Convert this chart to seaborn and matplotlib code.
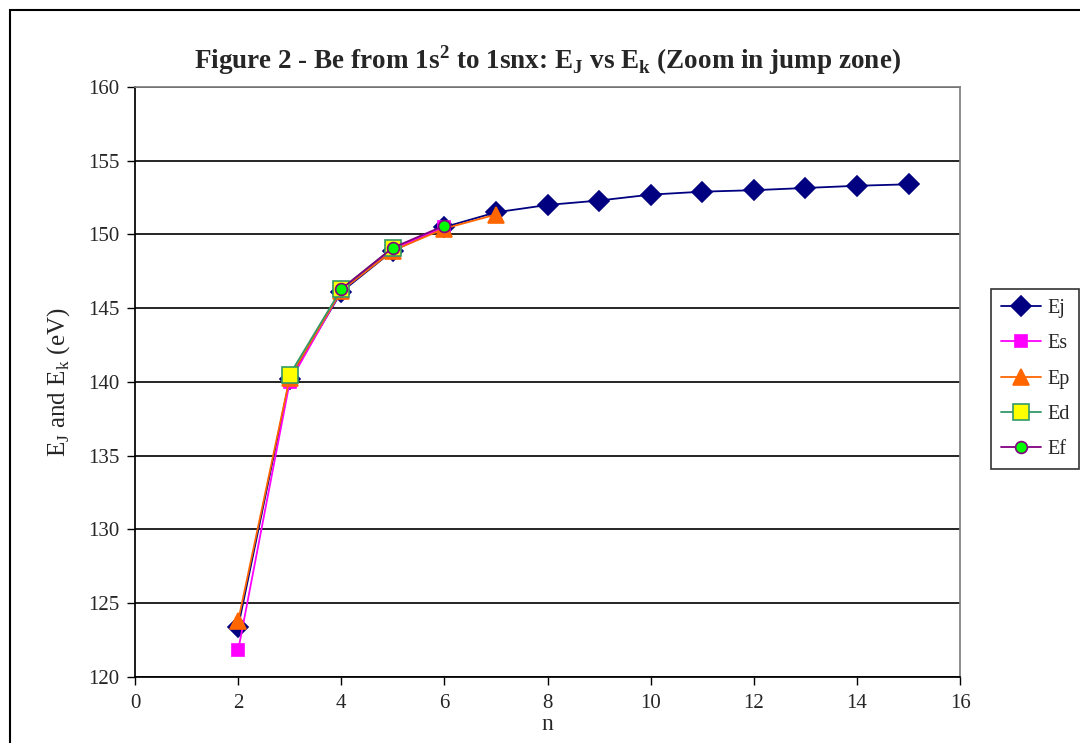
import pandas as pd
import matplotlib
matplotlib.use("Agg")
import matplotlib.pyplot as plt
import seaborn as sns
from matplotlib.patches import Rectangle

# values (eV)
n_j = [2, 3, 4, 5, 6, 7, 8, 9, 10, 11, 12, 13, 14, 15]
e_j = [123.4, 140.2, 146.1, 148.9, 150.5, 151.5, 152.0, 152.3, 152.7, 152.9, 153.0, 153.15, 153.3, 153.4]
n_s = [2, 3, 4, 5, 6]
e_s = [121.8, 140.0, 146.2, 149.0, 150.5]
n_p = [2, 3, 4, 5, 6, 7]
e_p = [123.8, 140.3, 146.2, 148.9, 150.4, 151.35]
n_d = [3, 4, 5]
e_d = [140.5, 146.3, 149.1]
n_f = [4, 5, 6]
e_f = [146.3, 149.1, 150.6]

series = [
    ("Ej", n_j, e_j, dict(color="#000080", marker="D", markersize=10, mfc="#000080", mec="#000080")),
    ("Es", n_s, e_s, dict(color="#FF00FF", marker="s", markersize=8.5, mfc="#FF00FF", mec="#FF00FF")),
    ("Ep", n_p, e_p, dict(color="#FF6600", marker="^", markersize=11, mfc="#FF6600", mec="#FF6600")),
    ("Ed", n_d, e_d, dict(color="#339966", marker="s", markersize=11, mfc="#FFFF00", mec="#339966")),
    ("Ef", n_f, e_f, dict(color="#800080", marker="o", markersize=8.5, mfc="#00FF00", mec="#800080")),
]

sns.set_theme(style="white")
plt.rcParams["font.family"] = ["Liberation Serif", "DejaVu Serif"]
plt.rcParams["mathtext.fontset"] = "custom"
plt.rcParams["mathtext.rm"] = "Liberation Serif"
plt.rcParams["mathtext.bf"] = "Liberation Serif:bold"

fig = plt.figure(figsize=(10.8, 7.43), dpi=100)
ax = fig.add_axes([0.125, 0.0888, 0.764, 0.7942])

for name, xs, ys, st in series:
    df = pd.DataFrame({"n": xs, "E": ys})
    sns.lineplot(data=df, x="n", y="E", ax=ax, label=name, lw=1.3,
                 color=st["color"], marker=st["marker"], markersize=st["markersize"],
                 markerfacecolor=st["mfc"], markeredgecolor=st["mec"], markeredgewidth=1.2)

ax.set_xlim(0, 16)
ax.set_ylim(120, 160)
ax.set_xticks(range(0, 17, 2))
ax.set_yticks(range(120, 161, 5))
ax.yaxis.grid(True, color="black", lw=1.2)
ax.xaxis.grid(False)
ax.set_axisbelow(True)
for s in ["top", "right"]:
    ax.spines[s].set_color("#808080")
for s in ["left", "bottom"]:
    ax.spines[s].set_color("black")
ax.tick_params(axis="both", labelsize=15, direction="out", length=6, width=1, color="black",
               left=True, bottom=True)
ax.tick_params(axis="x", pad=6)
ax.tick_params(axis="y", pad=5)

ax.set_xlabel("n", fontsize=17, labelpad=1)
ax.set_ylabel(r"E$_\mathrm{J}$ and E$_\mathrm{k}$ (eV)", fontsize=18, labelpad=12)
ax.set_title(r"Figure 2 - Be from 1s$^\mathbf{2}$ to 1snx: E$_\mathbf{J}$ vs E$_\mathbf{k}$ (Zoom in jump zone)",
             fontsize=19.5, fontweight="bold", pad=13)

leg = ax.legend(loc="center left", bbox_to_anchor=(1.037, 0.505), frameon=True, fancybox=False,
                edgecolor="black", fontsize=14.5, handlelength=2.0, labelspacing=0.8,
                borderpad=0.5, handletextpad=0.3, borderaxespad=0)
leg.get_frame().set_linewidth(1.2)

fig.patches.append(Rectangle((10 / 1080, -0.01), 1.1, 1 - 10 / 743 + 0.01, transform=fig.transFigure,
                             fill=False, edgecolor="black", lw=1.5))

fig.savefig("out.png", dpi=100)
